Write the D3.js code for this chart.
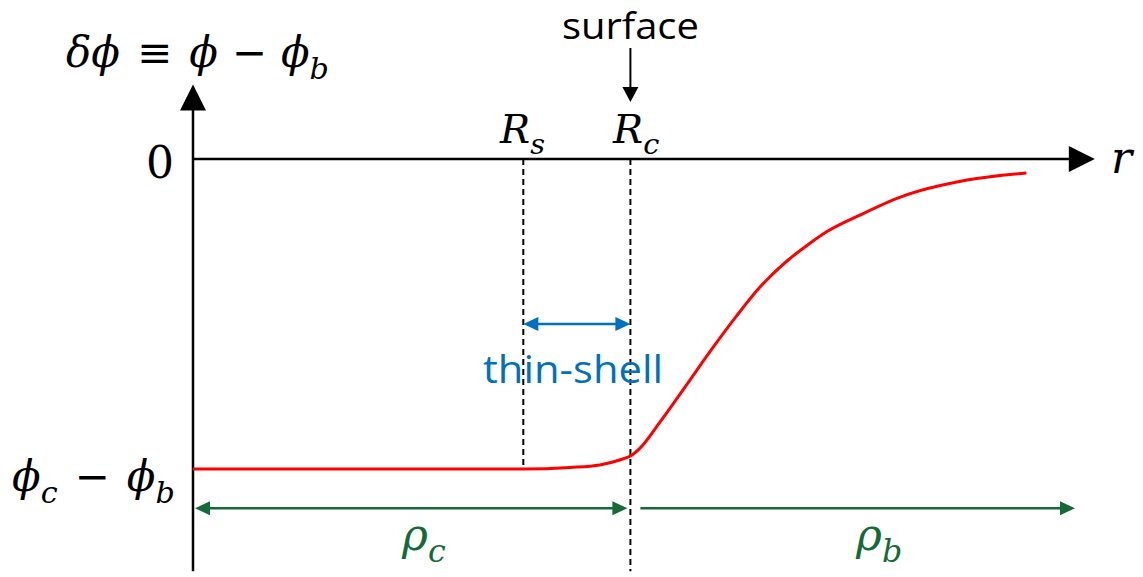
<!DOCTYPE html>
<html>
<head>
<meta charset="utf-8">
<script src="https://cdn.jsdelivr.net/npm/d3@7/dist/d3.min.js"></script>
<style>
  html, body { margin: 0; padding: 0; background: #fff; }
  svg { display: block; }
  .math { font-family: "DejaVu Serif", "Liberation Serif", serif; }
  .sans { font-family: "Open Sans", "Noto Sans", sans-serif; }
</style>
</head>
<body>
<svg id="chart" width="1143" height="577"></svg>
<script>
// ---------------------------------------------------------------------------
// Data: scalar-field profile δφ(r).
// r in arbitrary units (0..100), δφ normalised so φc − φb = −1.
// ---------------------------------------------------------------------------
const rValues    = [0, 20, 36.7, 41.9, 45.2, 47.4, 48.8, 49.7, 51.9, 54.9, 57.4, 60.4, 63.0, 66.0, 68.6, 70.4, 74.1, 78.6, 86.0, 92.6];
const dPhiValues = [-1, -1, -1, -0.995, -0.987, -0.971, -0.955, -0.932, -0.848, -0.726, -0.623, -0.506, -0.413, -0.329, -0.271, -0.235, -0.181, -0.123, -0.068, -0.045];

const R_S = 36.7;           // thin-shell inner radius
const R_C = 48.6;           // surface radius
const rExtent   = [0, 100.2];
const phiExtent = [-1.33, 0.24];
const yTicks    = [0, -1];  // "0" and "φc − φb"

const svg = d3.select("#chart");

const x = d3.scaleLinear().domain([0, 100]).range([193, 1093]);
const y = d3.scaleLinear().domain([-1, 0]).range([469, 159]);

const GREEN = "#146B37", BLUE = "#0070C0", RED = "#FF0000";

// Filled triangular arrowhead with tip at (tx, ty), pointing along angle (rad).
function arrowHead(g, tx, ty, angle, len, half, color) {
  const c = Math.cos(angle), s = Math.sin(angle);
  const bx = tx - c * len, by = ty - s * len;
  const pts = [[tx, ty], [bx - s * half, by + c * half], [bx + s * half, by - c * half]];
  g.append("path").attr("d", "M" + pts.join("L") + "Z").attr("fill", color);
}

// Math label built from segments: [text, italic?, subscript?, dx-before]
function mathLabel(px, py, segs, size, color, anchor) {
  const t = svg.append("text").attr("class", "math")
    .attr("x", px).attr("y", py)
    .attr("font-size", size).attr("fill", color || "#000")
    .attr("text-anchor", anchor || "start");
  let shifted = false;
  segs.forEach(([s, it, sub, dx]) => {
    const sp = t.append("tspan").text(s);
    if (it) sp.attr("font-style", "italic");
    let dy = 0;
    if (sub && !shifted) { dy = size * 0.28; shifted = true; }
    if (!sub && shifted) { dy = -size * 0.28; shifted = false; }
    if (dy) sp.attr("dy", dy);
    if (sub) sp.attr("font-size", size * 0.72);
    if (dx) sp.attr("dx", dx);
  });
  return t;
}

// --- axes ------------------------------------------------------------------
const axes = svg.append("g");
axes.append("line")
  .attr("x1", x(rExtent[0])).attr("x2", x(rExtent[1]) - 20)
  .attr("y1", y(0)).attr("y2", y(0))
  .attr("stroke", "#000").attr("stroke-width", 2.5);
arrowHead(axes, x(rExtent[1]), y(0), 0, 26, 13, "#000");

axes.append("line")
  .attr("x1", x(0)).attr("x2", x(0))
  .attr("y1", y(phiExtent[0])).attr("y2", y(phiExtent[1]) + 20)
  .attr("stroke", "#000").attr("stroke-width", 2.5);
arrowHead(axes, x(0), y(phiExtent[1]), -Math.PI / 2, 26, 13, "#000");

// --- dashed markers at R_s and R_c -----------------------------------------
svg.append("line")
  .attr("x1", x(R_S)).attr("x2", x(R_S))
  .attr("y1", y(0)).attr("y2", y(-1))
  .attr("stroke", "#000").attr("stroke-width", 2).attr("stroke-dasharray", "6,4");
svg.append("line")
  .attr("x1", x(R_C)).attr("x2", x(R_C))
  .attr("y1", y(0)).attr("y2", y(phiExtent[0]))
  .attr("stroke", "#000").attr("stroke-width", 2).attr("stroke-dasharray", "6,4");

// --- profile curve ---------------------------------------------------------
const pts = rValues.map((r, i) => [r, dPhiValues[i]]);
svg.append("path")
  .datum(pts)
  .attr("fill", "none")
  .attr("stroke", RED)
  .attr("stroke-width", 3)
  .attr("d", d3.line().x(d => x(d[0])).y(d => y(d[1])).curve(d3.curveMonotoneX));

// --- thin-shell bracket ----------------------------------------------------
const yShell = -0.532;
svg.append("line")
  .attr("x1", x(R_S) + 10).attr("x2", x(R_C) - 10)
  .attr("y1", y(yShell)).attr("y2", y(yShell))
  .attr("stroke", BLUE).attr("stroke-width", 2.5);
arrowHead(svg, x(R_S), y(yShell), Math.PI, 15, 7, BLUE);
arrowHead(svg, x(R_C), y(yShell), 0, 15, 7, BLUE);
svg.append("text").attr("class", "sans")
  .attr("x", 483).attr("y", y(-0.723))
  .attr("font-size", 38).attr("fill", BLUE)
  .attr("textLength", 180).attr("lengthAdjust", "spacingAndGlyphs")
  .text("thin-shell");

// --- density regions -------------------------------------------------------
const yRho = -1.127;
svg.append("line")
  .attr("x1", x(0) + 12).attr("x2", x(R_C) - 14)
  .attr("y1", y(yRho)).attr("y2", y(yRho))
  .attr("stroke", GREEN).attr("stroke-width", 2.5);
arrowHead(svg, x(0) + 2, y(yRho), Math.PI, 15, 7, GREEN);
arrowHead(svg, x(R_C) - 3, y(yRho), 0, 15, 7, GREEN);
svg.append("line")
  .attr("x1", x(R_C) + 10).attr("x2", x(98) - 12)
  .attr("y1", y(yRho)).attr("y2", y(yRho))
  .attr("stroke", GREEN).attr("stroke-width", 2.5);
arrowHead(svg, x(98), y(yRho), 0, 15, 7, GREEN);

mathLabel(402, 550, [["ρ", true], ["c", true, true]], 44, GREEN);
mathLabel(856, 550, [["ρ", true], ["b", true, true]], 44, GREEN);

// --- R_s, R_c labels -------------------------------------------------------
mathLabel(500, 143, [["R", true], ["s", true, true]], 40);
mathLabel(613, 143, [["R", true], ["c", true, true]], 40);

// --- surface annotation ----------------------------------------------------
svg.append("text").attr("class", "sans")
  .attr("x", x(R_C)).attr("y", 39)
  .attr("font-size", 36).attr("text-anchor", "middle")
  .attr("textLength", 137).attr("lengthAdjust", "spacingAndGlyphs")
  .text("surface");
svg.append("line")
  .attr("x1", x(R_C)).attr("x2", x(R_C))
  .attr("y1", 48).attr("y2", 90)
  .attr("stroke", "#000").attr("stroke-width", 2);
arrowHead(svg, x(R_C), 102, Math.PI / 2, 15, 8, "#000");

// --- axis titles -----------------------------------------------------------
mathLabel(1111, 173, [["r", true]], 44);
mathLabel(66, 67, [
  ["δϕ", true], ["≡", false, false, 17], ["ϕ", true, false, 17],
  ["−", false, false, 14], ["ϕ", true, false, 14], ["b", true, true]
], 42);

// --- y tick labels ---------------------------------------------------------
yTicks.forEach(v => {
  if (v === 0) {
    mathLabel(146, y(v) + 19, [["0"]], 44);
  } else {
    mathLabel(12, y(v) + 22, [
      ["ϕ", true], ["c", true, true], ["−", false, false, 17],
      ["ϕ", true, false, 17], ["b", true, true]
    ], 42);
  }
});
</script>
</body>
</html>
